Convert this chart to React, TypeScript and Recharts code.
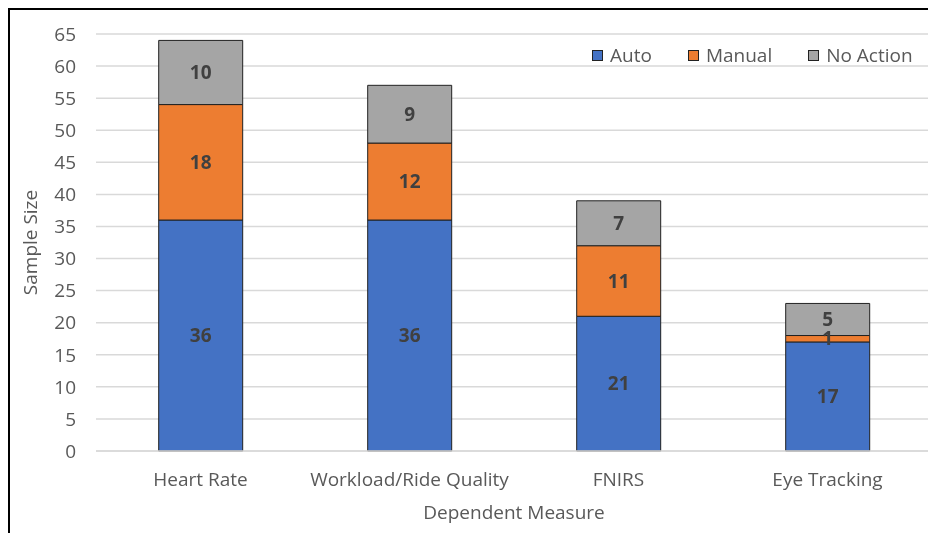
import { BarChart, Bar, XAxis, YAxis, CartesianGrid, LabelList, Label } from 'recharts';

const measures = ['Heart Rate', 'Workload/Ride Quality', 'FNIRS', 'Eye Tracking'];
const auto = [36, 36, 21, 17];
const manual = [18, 12, 11, 1];
const noAction = [10, 9, 7, 5];
const yTicks = [0, 5, 10, 15, 20, 25, 30, 35, 40, 45, 50, 55, 60, 65];

const series = [
  { key: 'auto', name: 'Auto', color: '#4472C4' },
  { key: 'manual', name: 'Manual', color: '#ED7D31' },
  { key: 'noAction', name: 'No Action', color: '#A5A5A5' },
];

const data = measures.map((m, i) => ({
  measure: m,
  auto: auto[i],
  manual: manual[i],
  noAction: noAction[i],
}));

const FONT = '"Open Sans", Lato, sans-serif';

// legend drawn as plain html on top of the chart so it doesn't eat plot space
function LegendBox() {
  return (
    <div style={{ position: 'absolute', top: 32, left: 582, display: 'flex', alignItems: 'center', fontFamily: FONT, fontSize: 19, color: '#595959' }}>
      {series.map((s, i) => (
        <div key={s.key} style={{ display: 'flex', alignItems: 'center', marginLeft: i === 0 ? 0 : 36 }}>
          <span style={{ width: 9, height: 9, background: s.color, border: '1px solid #222', marginRight: 7, display: 'inline-block' }} />
          <span>{s.name}</span>
        </div>
      ))}
    </div>
  );
}

export default function App() {
  return (
    <div style={{ position: 'fixed', left: 8, top: 8, width: 918, height: 523, borderLeft: '2px solid #000', borderTop: '2px solid #000', overflow: 'hidden' }}>
      <BarChart
        width={922}
        height={523}
        data={data}
        margin={{ top: 24, right: 0, left: 0, bottom: 0 }}
        barCategoryGap="30%"
        style={{ fontFamily: FONT }}
      >
        <CartesianGrid horizontal vertical={false} stroke="#d9d9d9" strokeWidth={1.5} />
        <XAxis
          dataKey="measure"
          height={82}
          tickSize={0}
          tickMargin={22}
          axisLine={{ stroke: '#d9d9d9', strokeWidth: 1.5 }}
          tick={{ fill: '#595959', fontSize: 19 }}
        >
          <Label value="Dependent Measure" position="insideBottom" offset={14} fill="#595959" fontSize={19} />
        </XAxis>
        <YAxis
          width={86}
          domain={[0, 65]}
          ticks={yTicks}
          tickSize={0}
          tickMargin={20}
          axisLine={false}
          tick={{ fill: '#595959', fontSize: 19 }}
        >
          <Label
            content={({ viewBox }: any) => {
              const cy = viewBox.y + viewBox.height / 2;
              return (
                <text x={20} y={cy} transform={`rotate(-90 20 ${cy})`} textAnchor="middle" dominantBaseline="central" fill="#595959" fontSize={19}>
                  Sample Size
                </text>
              );
            }}
          />
        </YAxis>
        {series.map((s) => (
          <Bar key={s.key} dataKey={s.key} name={s.name} stackId="a" fill={s.color} stroke="#222" strokeWidth={1} isAnimationActive={false}>
            <LabelList dataKey={s.key} position="center" fill="#404040" fontSize={19} fontWeight="bold" />
          </Bar>
        ))}
      </BarChart>
      <LegendBox />
    </div>
  );
}
